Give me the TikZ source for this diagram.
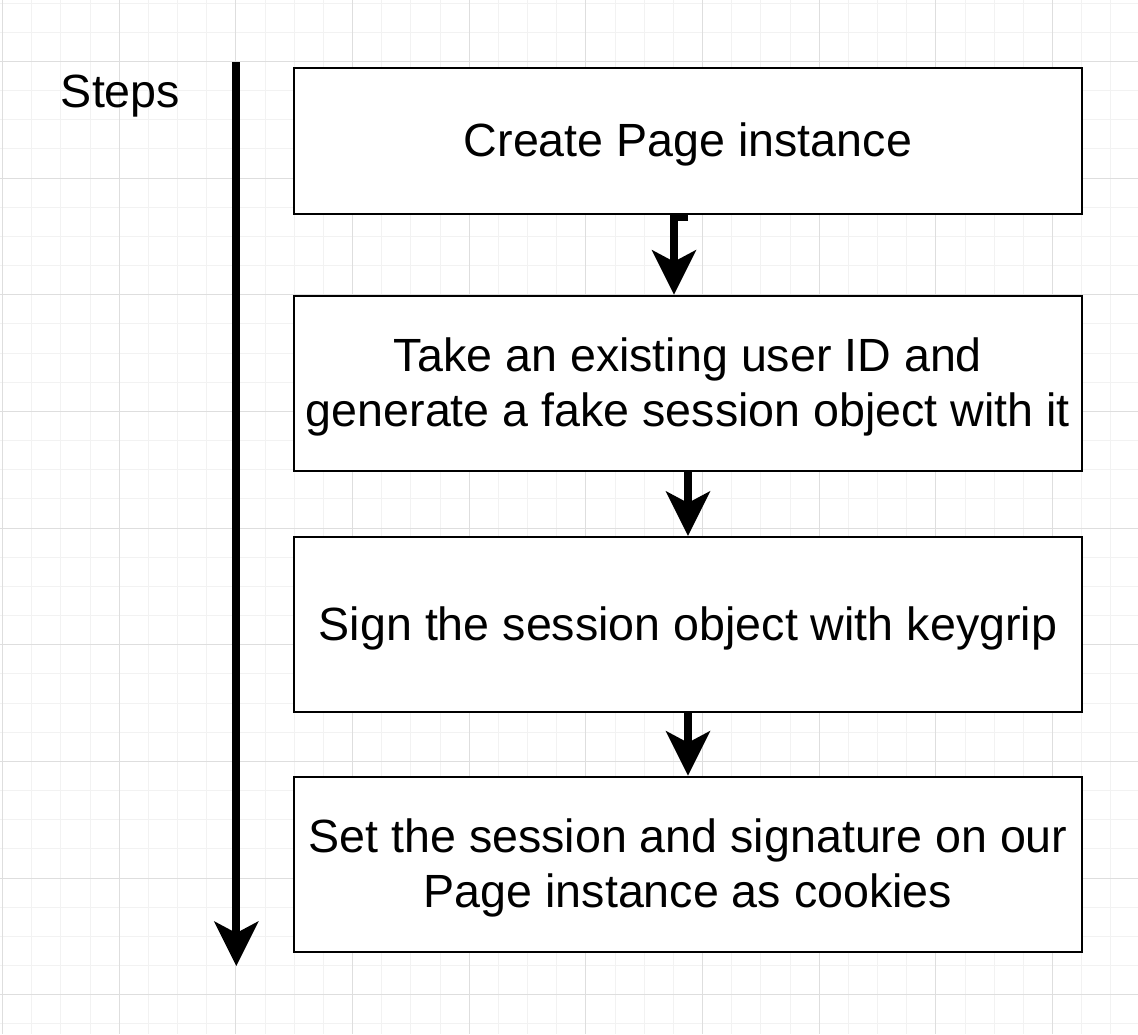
\documentclass[tikz,border=0pt]{standalone}
\usepackage{fontspec}
\setmainfont{Liberation Sans}
\usetikzlibrary{arrows.meta}
\newcommand{\topgap}{\rule{0pt}{41.5pt}}

\begin{document}
\begin{tikzpicture}[x=1pt,y=-1pt,
        every node/.style={font=\fontsize{46.6pt}{55pt}\selectfont},
        minorgrid/.style={draw=black!5,line width=1pt},
        majorgrid/.style={draw=black!13,line width=1pt},
        stepbox/.style={draw=black,line width=2.2pt,fill=white,minimum width=788pt,inner sep=0pt,align=center},
        flow/.style={line width=8pt,-{Stealth[length=45pt,width=45pt,inset=12pt,line width=0pt]}}]
            \useasboundingbox (0,0) rectangle (1138,1034);
            \fill[white] (0,0) rectangle (1138,1034);
            \foreach \k in {0,...,39}
                \draw[minorgrid] (2.6+\k*29.1667,0) -- (2.6+\k*29.1667,1034);
            \foreach \k in {0,...,35}
                \draw[minorgrid] (0,3.1+\k*29.1667) -- (1138,3.1+\k*29.1667);
            \foreach \k in {0,...,9}
                \draw[majorgrid] (2.6+\k*116.667,0) -- (2.6+\k*116.667,1034);
            \foreach \k in {0,...,8}
                \draw[majorgrid] (0,61.4+\k*116.667) -- (1138,61.4+\k*116.667);
            \node[anchor=base] (steps) at (120.5,107) {Steps};
            \node[stepbox,minimum height=146pt] (create) at (688,140.75) {\topgap Create Page instance};
            \node[stepbox,minimum height=175pt] (fake) at (688,383.25) {\topgap Take an existing user ID and\\generate a fake session object with it};
            \node[stepbox,minimum height=175pt] (sign) at (688,624.5) {\topgap Sign the session object with keygrip};
            \node[stepbox,minimum height=175pt] (cookies) at (688,864.25) {\topgap Set the session and signature on our\\Page instance as cookies};
            \coordinate (stepstop) at (236.3,62);
            \coordinate (stepsend) at (236.3,966);
            \draw[flow] (stepstop) -- (stepsend);
            \draw[flow] ([yshift=-2pt]create.south) -- ++(-14,0) coordinate (jog) -- (jog |- fake.north);
            \draw[flow] (fake) -- (sign);
            \draw[flow] (sign) -- (cookies);
        \end{tikzpicture}
\end{document}
